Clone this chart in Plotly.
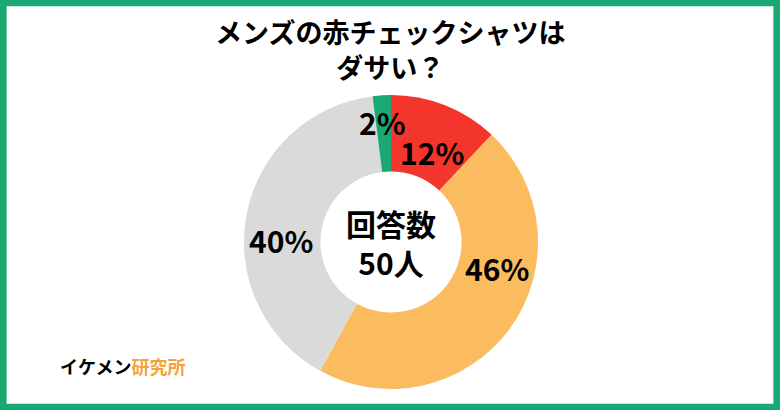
import plotly.graph_objects as go

labels = ["はい", "いいえ", "どちらでもない", "その他"]
values = [12, 46, 40, 2]
colors = ["#f4352b", "#fbbb5f", "#dadada", "#1aa873"]
texts = ["12%", "46%", "40%", "2%"]
# label positions (pixels)
text_xy = [(432, 152), (497, 268), (281, 240), (382, 122)]

W, H = 780, 410
cx, cy, r = 391, 242, 147

fig = go.Figure(go.Pie(
    labels=labels, values=values, sort=False, direction="clockwise", rotation=0,
    hole=0.48, marker=dict(colors=colors, line=dict(color="white", width=0)),
    textinfo="none", hoverinfo="label+percent",
    domain=dict(x=[(cx - r) / W, (cx + r) / W], y=[(H - cy - r) / H, (H - cy + r) / H]),
    showlegend=False,
))

for t, (px, py) in zip(texts, text_xy):
    fig.add_annotation(x=px / W, y=1 - py / H, xref="paper", yref="paper", showarrow=False,
                       yanchor="middle", text=f"<b>{t}</b>",
                       font=dict(size=30, color="black", family="Noto Sans CJK JP"))

fig.add_annotation(x=0.5, y=1 - 10 / H, xref="paper", yref="paper", showarrow=False,
                   yanchor="top", text="<b>メンズの赤チェックシャツは<br>ダサい？</b>",
                   font=dict(size=27, color="black", family="Noto Sans CJK JP"))
fig.add_annotation(x=cx / W, y=1 - cy / H, xref="paper", yref="paper", showarrow=False,
                   text="<b>回答数<br>50人</b>",
                   font=dict(size=30, color="black", family="Noto Sans CJK JP"))
fig.add_annotation(x=58 / W, y=1 - 381 / H, xref="paper", yref="paper", showarrow=False,
                   xanchor="left", text="<b>イケメン<span style='color:#f5a23a'>研究所</span></b>",
                   font=dict(size=18, color="black", family="Noto Sans CJK JP"))

fig.add_shape(type="rect", xref="paper", yref="paper", x0=0.004, y0=0.007, x1=0.996, y1=0.993,
              line=dict(color="#1aa873", width=7))

fig.update_layout(width=W, height=H, margin=dict(l=0, r=0, t=0, b=0),
                  paper_bgcolor="white", plot_bgcolor="white")
fig.write_html("out.html", config={"displayModeBar": False},
               post_script="document.body.style.margin='0';document.body.style.overflow='hidden';")
